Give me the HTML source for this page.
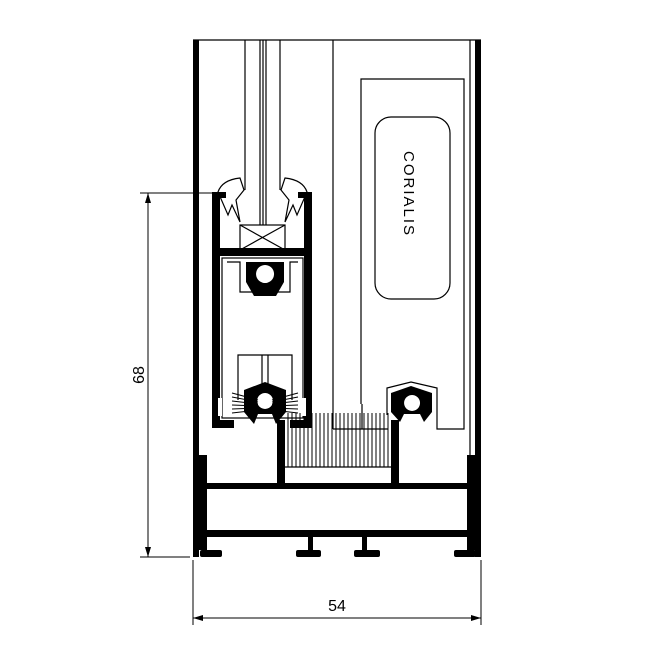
<!DOCTYPE html>
<html><head><style>html,body{margin:0;padding:0;background:#fff}svg{display:block}</style></head>
<body>
<svg width="660" height="660" viewBox="0 0 660 660" xmlns="http://www.w3.org/2000/svg" font-family="Liberation Sans, sans-serif">
<g fill="none" stroke="#000" stroke-width="1.2">
  <line x1="193" y1="40" x2="481" y2="40"/>
  <line x1="245" y1="40" x2="245" y2="190"/>
  <line x1="260" y1="40" x2="260" y2="225"/>
  <line x1="263" y1="40" x2="263" y2="225"/>
  <line x1="266" y1="40" x2="266" y2="225"/>
  <line x1="280" y1="40" x2="280" y2="190"/>
  <line x1="333" y1="40" x2="333" y2="429"/>
  <line x1="362" y1="404" x2="362" y2="429"/>
  <line x1="333" y1="429" x2="388" y2="429"/>
  <line x1="470" y1="40" x2="470" y2="456"/>
  <polyline points="361,404 361,79 464,79 464,429 437,429 437,388 411,382 387,388 387,415"/>
  <rect x="375" y="117" width="75" height="182" rx="16"/>
  <rect x="240" y="225" width="45" height="25"/>
  <line x1="240" y1="225" x2="285" y2="250"/>
  <line x1="285" y1="225" x2="240" y2="250"/>
  <path d="M218,192 Q222,180 240,178 L244,190 L236,200 L240,222 L232,205 L228,215 Z"/>
  <path d="M307,192 Q303,180 285,178 L281,190 L289,200 L285,222 L293,205 L297,215 Z"/>
  <rect x="222" y="258" width="81" height="160"/>
  <path d="M227,262 L240,262 L240,292 L290,292 L290,262 L298,262"/>
  <path d="M238,400 L238,355 L292,355 L292,400"/>
  <line x1="262" y1="355" x2="262" y2="385"/>
  <line x1="268" y1="355" x2="268" y2="385"/>
  <line x1="140" y1="193" x2="215" y2="193" stroke-width="1"/>
  <line x1="140" y1="557" x2="190" y2="557" stroke-width="1"/>
  <line x1="148" y1="193" x2="148" y2="557" stroke-width="1"/>
  <line x1="193" y1="560" x2="193" y2="625" stroke-width="1"/>
  <line x1="481" y1="560" x2="481" y2="625" stroke-width="1"/>
  <line x1="193" y1="618" x2="481" y2="618" stroke-width="1"/>
  <line x1="285" y1="467" x2="391" y2="467"/>
</g>
<g stroke="#000" stroke-width="1">
  <path d="M288,413V467M292,413V467M296,413V467M300,413V467M304,413V467M308,413V467M312,413V467M316,413V467M320,413V467M324,413V467M328,413V467M332,413V467M336,413V467M340,413V467M344,413V467M348,413V467M352,413V467M356,413V467M360,413V467M364,413V467M368,413V467M372,413V467M376,413V467M380,413V467M384,413V467M388,413V467"/>
  <path d="M232,393L258,400M232,397L258,402M232,401L258,404M232,405L258,406M232,409L258,408M232,413L258,410M298,393L272,400M298,397L272,402M298,401L272,404M298,405L272,406M298,409L272,408M298,413L272,410"/>
</g>
<g fill="#000">
  <polygon points="148,193 145,203 151,203"/>
  <polygon points="148,557 145,547 151,547"/>
  <polygon points="193,618 203,615 203,621"/>
  <polygon points="481,618 471,615 471,621"/>
  <rect x="193" y="40" width="6" height="517"/>
  <rect x="475" y="40" width="6" height="517"/>
  <rect x="199" y="455" width="8" height="95"/>
  <rect x="467" y="455" width="8" height="95"/>
  <rect x="200" y="483" width="272" height="6"/>
  <rect x="200" y="530" width="272" height="7"/>
  <rect x="200" y="550" width="22" height="7" rx="2"/>
  <rect x="296" y="550" width="25" height="7" rx="2"/>
  <rect x="354" y="550" width="26" height="7" rx="2"/>
  <rect x="454" y="550" width="22" height="7" rx="2"/>
  <rect x="308" y="537" width="5" height="14"/>
  <rect x="362" y="537" width="5" height="14"/>
  <rect x="277" y="420" width="8" height="64"/>
  <rect x="391" y="420" width="8" height="64"/>
  <rect x="212" y="192" width="8" height="236"/>
  <rect x="304" y="192" width="8" height="236"/>
  <rect x="212" y="192" width="14" height="6"/>
  <rect x="298" y="192" width="14" height="6"/>
  <rect x="212" y="248" width="100" height="8"/>
  <rect x="212" y="420" width="22" height="8"/>
  <rect x="290" y="420" width="22" height="8"/>
  <path fill-rule="evenodd" d="M246,262 L284,262 L284,282 L276,296 L254,296 L246,282 Z M265,265 a9,9 0 1,0 0.1,0 Z"/>
  <path fill-rule="evenodd" d="M244,390 L265,382 L286,390 L286,412 L276,424 L272,414 L258,414 L254,424 L244,412 Z M265,393 a8,8 0 1,0 0.1,0 Z"/>
  <path fill-rule="evenodd" d="M391,393 L411,386 L432,393 L432,412 L424,422 L420,414 L404,414 L400,422 L391,412 Z M412,395 a8,8 0 1,0 0.1,0 Z"/>
</g>
<g fill="#fff">
  <rect x="218" y="398" width="4" height="18"/>
  <rect x="302" y="398" width="4" height="18"/>
</g>
<text x="0" y="0" font-size="15" transform="translate(404,151) rotate(90)" letter-spacing="2">CORIALIS</text>
<text x="0" y="0" font-size="16" text-anchor="middle" transform="translate(144,375) rotate(-90)">68</text>
<text x="337" y="611" font-size="16" text-anchor="middle">54</text>
</svg>
</body></html>
